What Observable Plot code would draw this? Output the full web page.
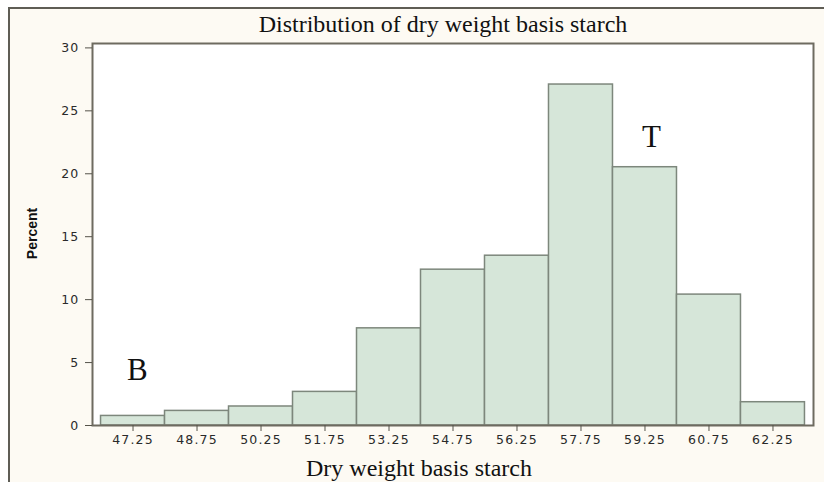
<!DOCTYPE html>
<html>
<head>
<meta charset="utf-8">
<script src="https://cdn.jsdelivr.net/npm/d3@7"></script>
<script src="https://cdn.jsdelivr.net/npm/@observablehq/plot@0.6"></script>
<style>
  html, body { margin: 0; padding: 0; background: #ffffff; }
  #wrap { position: relative; width: 824px; height: 482px; overflow: hidden; }
  #bg { position: absolute; left: 8px; top: 7px; right: 0; bottom: 0;
        background: #fdfaf3; border-left: 2px solid #5f5d55; border-top: 2px solid #5f5d55; }
  #chart { position: absolute; left: 0; top: 0; }
  #chart svg { background: transparent !important; }
  #chart svg g[aria-label="x-axis tick label"] text,
  #chart svg g[aria-label="y-axis tick label"] text { letter-spacing: 1.2px; font-size: 12.5px; }
</style>
</head>
<body>
<div id="wrap"><div id="bg"></div><div id="chart"></div></div>
<script>
const titleText = "Distribution of dry weight basis starch";
const xLabel = "Dry weight basis starch";
const yLabel = "Percent";
const binMids = [47.25, 48.75, 50.25, 51.75, 53.25, 54.75, 56.25, 57.75, 59.25, 60.75, 62.25];
const percents = [0.76, 1.16, 1.51, 2.67, 7.72, 12.38, 13.49, 27.09, 20.52, 10.4, 1.85];
const binWidth = 1.5;
const yTicks = [0, 5, 10, 15, 20, 25, 30];
const annoText = ["B", "T"];
const annoX = [47.35, 59.4];
const annoY = [4.4, 22.9];

const bars = binMids.map((m, i) => ({x1: m - binWidth / 2, x2: m + binWidth / 2, y: percents[i]}));
const annos = annoText.map((t, i) => ({text: t, x: annoX[i], y: annoY[i]}));
const serif = "Liberation Serif, Times New Roman, serif";

const chart = Plot.plot({
  width: 824,
  height: 482,
  marginLeft: 92,
  marginRight: 11,
  marginTop: 43,
  marginBottom: 57,
  style: {background: "transparent", fontFamily: "DejaVu Sans, sans-serif"},
  x: {domain: [46.3, 63.2], label: null},
  y: {domain: [0, 30.35], label: null},
  marks: [
    Plot.frame({fill: "white", stroke: "none"}),
    Plot.rectY(bars, {x1: "x1", x2: "x2", y: "y", fill: "#d6e6d9", stroke: "#7d877c", strokeWidth: 1.5}),
    Plot.frame({stroke: "#6e6b60", strokeWidth: 2}),
    Plot.axisY({ticks: yTicks, tickSize: 7, tickPadding: 6, stroke: "#55534a",
      fontSize: 12, fill: "#2a2a2a", label: null}),
    Plot.axisX({ticks: binMids, tickSize: 6, tickPadding: 4, stroke: "#55534a",
      fontSize: 12, fill: "#2a2a2a", label: null, tickFormat: d => d.toFixed(2)}),
    Plot.text(annos, {x: "x", y: "y", text: "text", fontSize: 31, fill: "#111", fontFamily: serif}),
    Plot.text([titleText], {frameAnchor: "top", lineAnchor: "bottom", dy: -12, dx: -10,
      text: d => d, fontSize: 24, fill: "#111", fontFamily: serif}),
    Plot.text([xLabel], {frameAnchor: "bottom", lineAnchor: "bottom", dy: 50, dx: -34,
      text: d => d, fontSize: 24, fill: "#111", fontFamily: serif}),
    Plot.text([yLabel], {frameAnchor: "left", textAnchor: "middle", dx: -60, dy: -1, rotate: -90,
      text: d => d, fontSize: 14, fontWeight: "bold", fill: "#111",
      fontFamily: "Liberation Sans Narrow, Liberation Sans, sans-serif"})
  ]
});
document.getElementById("chart").appendChild(chart);
</script>
</body>
</html>
